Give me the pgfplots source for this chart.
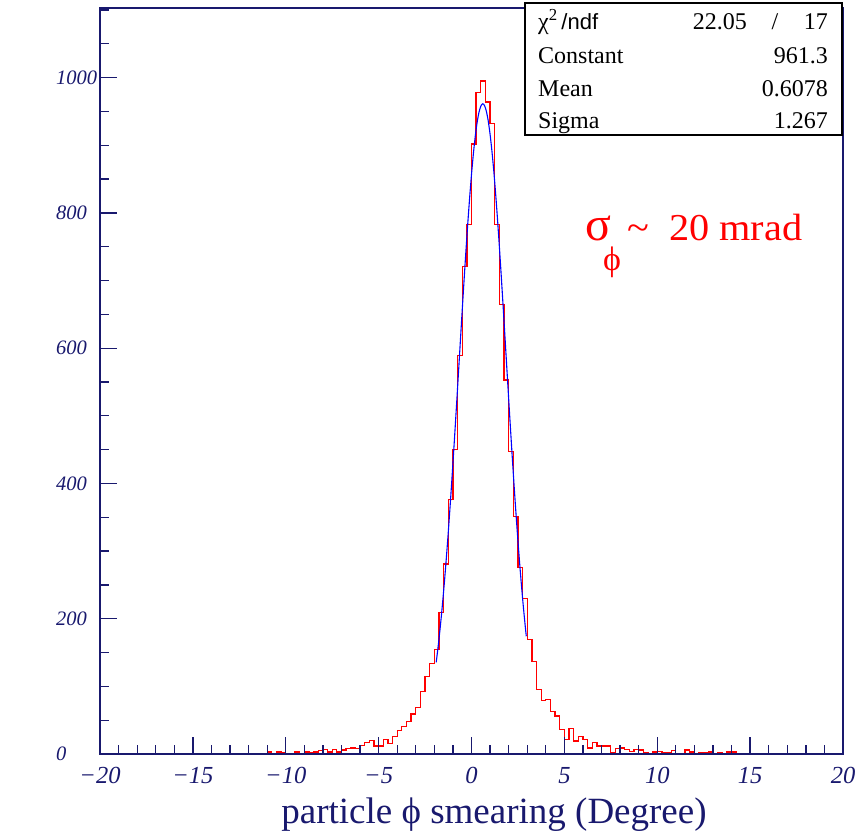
\documentclass[border=0pt]{standalone}
\usepackage{fontspec}
\setmainfont{Liberation Serif}
\newfontfamily\sansf{Liberation Sans}
\usepackage{pgfplots}
\pgfplotsset{compat=1.18}
\definecolor{navy}{RGB}{25,25,110}
\definecolor{hred}{RGB}{255,0,0}
\definecolor{fblue}{RGB}{0,0,255}

\pgfplotstableread{
x y
-20.00 0
-19.75 0
-19.50 0
-19.25 0
-19.00 0
-18.75 0
-18.50 0
-18.25 0
-18.00 1
-17.75 0
-17.50 1
-17.25 1
-17.00 0
-16.75 0
-16.50 0
-16.25 0
-16.00 0
-15.75 0
-15.50 0
-15.25 0
-15.00 0
-14.75 0
-14.50 1
-14.25 0
-14.00 0
-13.75 0
-13.50 0
-13.25 1
-13.00 0
-12.75 0
-12.50 1
-12.25 1
-12.00 0
-11.75 0
-11.50 0
-11.25 0
-11.00 3
-10.75 1
-10.50 3
-10.25 2
-10.00 1
-9.75 1
-9.50 3
-9.25 1
-9.00 3
-8.75 2
-8.50 3
-8.25 5
-8.00 7
-7.75 3
-7.50 7
-7.25 3
-7.00 6
-6.75 8
-6.50 9
-6.25 8
-6.00 13
-5.75 17
-5.50 20
-5.25 12
-5.00 12
-4.75 21
-4.50 16
-4.25 26
-4.00 35
-3.75 41
-3.50 48
-3.25 59
-3.00 69
-2.75 92
-2.50 115
-2.25 134
-2.00 155
-1.75 209
-1.50 281
-1.25 376
-1.00 450
-0.75 589
-0.50 721
-0.25 783
0.00 902
0.25 978
0.50 995
0.75 964
1.00 932
1.25 783
1.50 665
1.75 553
2.00 447
2.25 351
2.50 276
2.75 230
3.00 169
3.25 137
3.50 95
3.75 79
4.00 81
4.25 63
4.50 56
4.75 36
5.00 21
5.25 38
5.50 19
5.75 26
6.00 21
6.25 9
6.50 17
6.75 12
7.00 12
7.25 12
7.50 2
7.75 8
8.00 9
8.25 7
8.50 4
8.75 7
9.00 6
9.25 2
9.50 1
9.75 3
10.00 4
10.25 2
10.50 2
10.75 5
11.00 1
11.25 1
11.50 6
11.75 3
12.00 1
12.25 2
12.50 2
12.75 3
13.00 1
13.25 2
13.50 0
13.75 3
14.00 3
14.25 1
14.50 0
14.75 0
15.00 0
15.25 0
15.50 0
15.75 0
16.00 0
16.25 0
16.50 0
16.75 0
17.00 0
17.25 0
17.50 0
17.75 0
18.00 0
18.25 1
18.50 0
18.75 0
19.00 0
19.25 0
19.50 1
19.75 1
20.00 1
}\histdata

\pgfplotstableread{
x y
-1.90 135.6
-1.80 158.0
-1.70 183.0
-1.60 210.6
-1.50 240.9
-1.40 273.9
-1.30 309.4
-1.20 347.4
-1.10 387.5
-1.00 429.7
-0.90 473.5
-0.80 518.5
-0.70 564.3
-0.60 610.3
-0.50 655.9
-0.40 700.6
-0.30 743.7
-0.20 784.5
-0.10 822.4
0.00 856.8
0.10 887.1
0.20 912.8
0.30 933.3
0.40 948.5
0.50 957.8
0.60 961.3
0.70 958.8
0.80 950.3
0.90 936.1
1.00 916.3
1.10 891.4
1.20 861.8
1.30 828.0
1.40 790.6
1.50 750.2
1.60 707.5
1.70 663.0
1.80 617.5
1.90 571.5
2.00 525.6
2.10 480.5
2.20 436.5
2.30 394.0
2.40 353.5
2.50 315.2
2.60 279.3
2.70 245.9
2.80 215.2
2.90 187.1
2.95 174.1
}\fitdata

\begin{document}
\begin{tikzpicture}[x=1pt,y=1pt]
\useasboundingbox (0,0) rectangle (863,832);
\begin{axis}[
  at={(100pt,78pt)}, anchor=south west, scale only axis,
  width=743pt, height=746pt,
  xmin=-20, xmax=20, ymin=0, ymax=1103,
  axis on top,
  axis line style={navy, line width=1.4pt},
  every tick/.style={navy, line width=1.3pt},
  tick align=inside, tick pos=left,
  major tick length=17pt, minor tick length=8.5pt,
  xtick={-20,-15,...,20},
  xticklabels={−20,−15,−10,−5,0,5,10,15,20},
  minor xtick={-19,-18,...,19},
  ytick={0,200,...,1000},
  yticklabels={0,200,400,600,800,1000},
  minor ytick={50,100,...,1100},
  xticklabel style={font=\fontsize{24.5}{26}\selectfont\itshape, text=navy, inner sep=0pt, anchor=north, yshift=-13pt},
  yticklabel style={font=\fontsize{20.5}{22}\selectfont\itshape, text=navy, inner sep=0pt, anchor=west, xshift=-44pt},
  clip=false,
]
\addplot[const plot, hred, line width=1.3pt] table[x=x,y=y] {\histdata};
\addplot[fblue, line width=1.1pt, smooth] table[x=x,y=y] {\fitdata};
\end{axis}
% x axis title
\node[text=navy, font=\fontsize{37}{39}\selectfont, anchor=base] at (494,8) {particle ϕ smearing (Degree)};
% sigma annotation
\node[text=hred, font=\fontsize{48}{50}\selectfont, anchor=base west, inner sep=0pt] at (585,591) {σ};
\node[text=hred, font=\fontsize{34}{36}\selectfont, anchor=base west, inner sep=0pt] at (603,561) {ϕ};
\node[text=hred, font=\fontsize{38}{40}\selectfont, anchor=base west, inner sep=0pt] at (627,591) {\scalebox{1.06}[1]{\char"007E\ \ 20 mrad}};
% stats box
\draw[black, fill=white, line width=1.2pt] (525,697) rectangle (842,829);
\begin{scope}[every node/.style={font=\fontsize{24}{26}\selectfont, inner sep=0pt}]
\node[anchor=base west] at (538,802) {χ\textsuperscript{2}{\sansf\fontsize{22}{24}\selectfont\,/ndf}};
\node[anchor=base east] at (747,802) {22.05};
\node[anchor=base] at (775,802) {/};
\node[anchor=base east] at (828,802) {17};
\node[anchor=base west] at (538,768) {Constant};
\node[anchor=base east] at (828,768) {961.3};
\node[anchor=base west] at (538,735) {Mean};
\node[anchor=base east] at (828,735) {0.6078};
\node[anchor=base west] at (538,703) {Sigma};
\node[anchor=base east] at (828,703) {1.267};
\end{scope}
\end{tikzpicture}
\end{document}
